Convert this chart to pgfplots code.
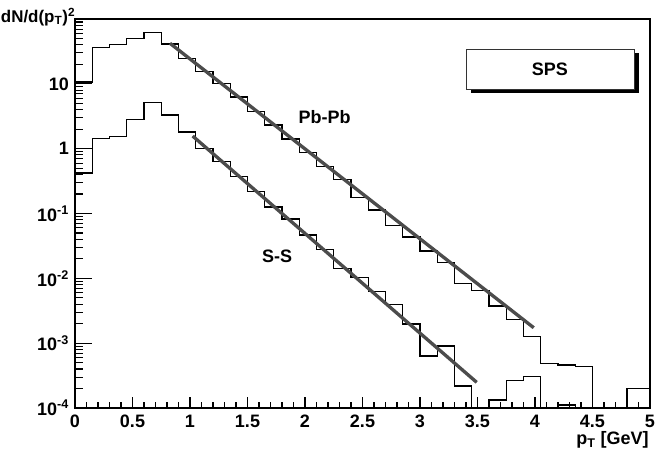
\documentclass[border=0pt]{standalone}
\usepackage{fontspec}
\setmainfont{Liberation Sans}
\usepackage{pgfplots}
\pgfplotsset{compat=1.18}

% ROOT-style histogram: bins of 0.15 GeV, value at left edge of each bin
\pgfplotstableread{
x     pbpb      ss
0.00  10.7      0.422
0.15  36.6      1.445
0.30  40.2      1.531
0.45  49.7      2.84
0.60  61.5      5.12
0.75  41.1      3.30
0.90  24.8      1.81
1.05  15.4      1.01
1.20  10.2      0.630
1.35  6.31      0.369
1.50  3.72      0.217
1.65  2.32      0.127
1.80  1.41      0.0822
1.95  0.879     0.0466
2.10  0.527     0.0280
2.25  0.337     0.01426
2.40  0.178     0.01035
2.55  0.113     0.00622
2.70  0.0649    0.00398
2.85  0.0437    0.00197
3.00  0.0264    0.000634
3.15  0.0174    0.000904
3.30  0.00838   0.000219
3.45  0.00646   1e-6
3.60  0.00374   0.000133
3.75  0.00233   0.000264
3.90  0.00126   0.000304
4.05  0.00049   1e-6
4.20  0.000457  0.000112
4.35  0.000437  1e-6
4.50  1e-6      1e-6
4.65  1e-6      1e-6
4.80  0.0002    1e-6
5.00  0.0002    1e-6
}\histdata

\newcommand{\tl}[1]{10\textsuperscript{#1}}

\pgfplotsset{
  rootframe/.style={
    at={(56.25pt,35.25pt)}, anchor=south west,
    scale only axis, width=431.25pt, height=291.75pt,
    xmin=0, xmax=5,
  },
}

\begin{document}
\begin{tikzpicture}
\useasboundingbox (0,0) rectangle (504pt,341.25pt);
% main axis: data, frame and y ticks
\begin{axis}[
  rootframe,
  ymin=1e-4, ymax=100,
  ymode=log, log basis y=10,
  axis line style={line width=1pt},
  tick align=inside, ytick pos=left,
  xtick=\empty,
  ytick={1e-4,1e-3,1e-2,1e-1,1,10,100},
  yticklabels={\tl{-4},\tl{-3},\tl{-2},\tl{-1},1,10,{}},
  yminorticks=true,
  minor ytick={2e-4,3e-4,4e-4,5e-4,6e-4,7e-4,8e-4,9e-4,
               2e-3,3e-3,4e-3,5e-3,6e-3,7e-3,8e-3,9e-3,
               2e-2,3e-2,4e-2,5e-2,6e-2,7e-2,8e-2,9e-2,
               0.2,0.3,0.4,0.5,0.6,0.7,0.8,0.9,
               2,3,4,5,6,7,8,9,
               20,30,40,50,60,70,80,90},
  major tick length=13pt, minor tick length=6pt,
  tick style={line width=0.8pt, black},
  yticklabel style={font=\bfseries\fontsize{13.5}{14}\selectfont, xshift=-1pt},
  clip=true,
]
\addplot[const plot, black, line width=1.1pt] table[x=x, y=pbpb] {\histdata};
\addplot[const plot, black, line width=1.1pt] table[x=x, y=ss] {\histdata};
% exponential fits
\addplot[color=black!70, line width=2.5pt] coordinates {(0.826,42.2) (3.989,0.00173)};
\addplot[color=black!70, line width=2.5pt] coordinates {(1.023,1.567) (3.493,0.000249)};

\node[font=\bfseries\fontsize{13.5}{14}\selectfont] at (axis cs:2.17,3.03) {Pb-Pb};
\node[font=\bfseries\fontsize{13.5}{14}\selectfont] at (axis cs:1.757,0.0221) {S-S};

% SPS box with shadow
\fill[black] ([xshift=3.5pt,yshift=-3pt]axis cs:3.406,34.4) rectangle ([xshift=3.5pt,yshift=-3pt]axis cs:4.863,8.24);
\draw[fill=white, draw=black!80, line width=0.7pt] (axis cs:3.406,34.4) rectangle (axis cs:4.863,8.24);
\node[font=\bfseries\fontsize{13.5}{14}\selectfont] at (axis cs:4.13,16.8) {SPS};
\end{axis}
% second axis on the same frame: only the x ticks, which are shorter
\begin{axis}[
  rootframe,
  ymin=0, ymax=1,
  axis y line=none, axis x line*=bottom,
  axis line style={line width=1pt, -},
  tick align=inside,
  xtick={0,0.5,1,1.5,2,2.5,3,3.5,4,4.5,5},
  xticklabels={0,0.5,1,1.5,2,2.5,3,3.5,4,4.5,5},
  minor x tick num=4,
  major tick length=8.25pt, minor tick length=4.25pt,
  tick style={line width=0.8pt, black},
  xticklabel style={font=\bfseries\fontsize{13.5}{14}\selectfont, yshift=-2pt},
]
\end{axis}
\node[anchor=base west, font=\bfseries\fontsize{12.7}{13}\selectfont, inner sep=0pt] at (0.5pt,324.75pt) {dN/d(p\textsubscript{T})\textsuperscript{2}};
\node[anchor=east, font=\bfseries\fontsize{13.5}{14}\selectfont, inner sep=0pt] at (486.75pt,11.5pt) {p\textsubscript{T} [GeV]};
\end{tikzpicture}
\end{document}
